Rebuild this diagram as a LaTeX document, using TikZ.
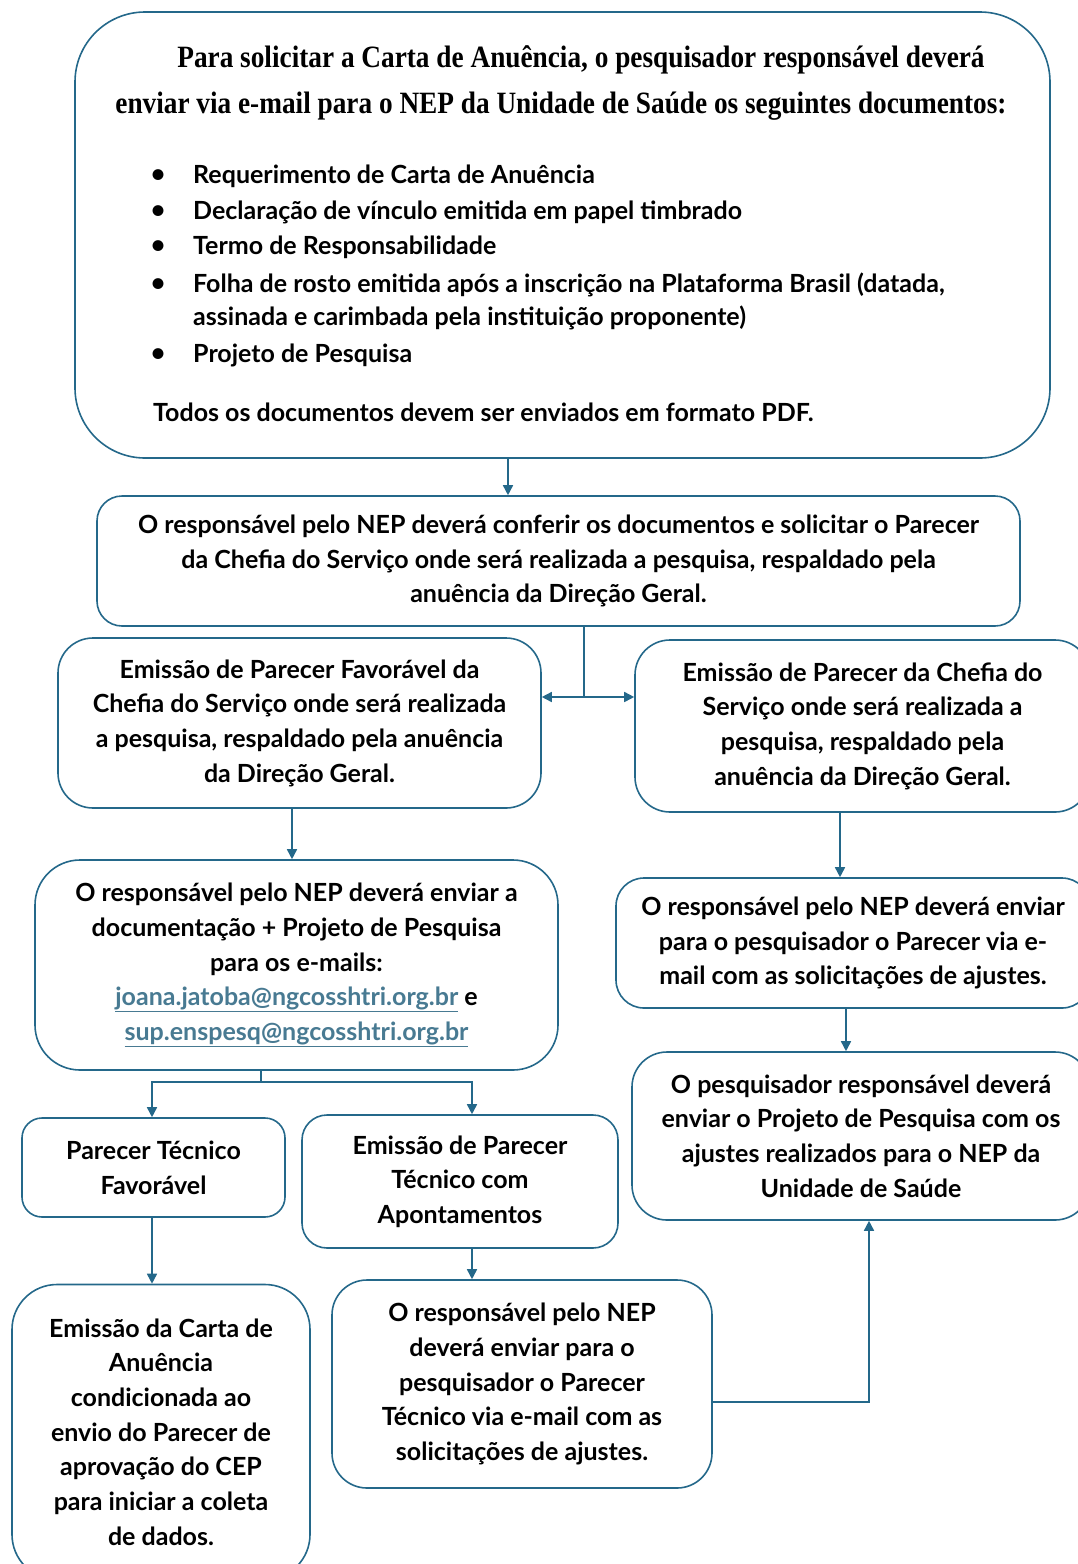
\documentclass[tikz,border=0pt]{standalone}
\usepackage{fontspec}
\setmainfont{Lato}
\newfontfamily\headfont[FakeStretch=0.88]{Liberation Serif}
\usetikzlibrary{positioning,arrows.meta,calc}
\definecolor{flowblue}{RGB}{36,104,138}
\definecolor{linkblue}{RGB}{72,122,146}
\newcommand{\maillink}[1]{\textcolor{linkblue}{\underline{#1}}}

\begin{document}
\begin{tikzpicture}[x=1pt,y=-1pt]
\tikzset{box/.style={draw=flowblue,line width=1.6pt,rounded corners=#1,align=center,inner sep=0pt,
    font=\fontsize{25}{34.7}\selectfont\bfseries},
  box/.default=28pt,
  txt/.style={inner sep=0pt,font=\fontsize{25}{34.7}\selectfont\bfseries},
  head/.style={inner sep=0pt,font=\headfont\fontsize{31}{36}\selectfont\bfseries},
  flow/.style={draw=flowblue,line width=1.6pt,-{Triangle[length=10pt,width=10pt]}},
  wire/.style={draw=flowblue,line width=1.6pt}}
\useasboundingbox (0,0) rectangle (1078,1564);
\clip (0,0) rectangle (1078,1564);

% request box
\node[box=70pt,minimum width=975pt,minimum height=446pt] (req) at (562.5,235) {};
\node[head] (head1) at (581,60) {Para solicitar a Carta de Anuência, o pesquisador responsável deverá};
\node[head] (head2) at (561,106) {enviar via e-mail para o NEP da Unidade de Saúde os seguintes documentos:};
\foreach \i/\y/\t in {1/176/Requerimento de Carta de Anuência,
    2/212/Declaração de vínculo emitida em papel timbrado,
    3/247/Termo de Responsabilidade,
    4/285/{Folha de rosto emitida após a inscrição na Plataforma Brasil (datada,},
    5/355/Projeto de Pesquisa}{
  \node[txt] (dot\i) at (158,\y) {\textbullet};
  \node[txt,anchor=west] (doc\i) at (193,\y) {\t};
}
\node[txt,anchor=west] (doc4b) at (193,318) {assinada e carimbada pela instituição proponente)};
\node[txt,anchor=west] (pdf) at (153,412) {Todos os documentos devem ser enviados em formato PDF.};

% checking
\node[box=25pt,minimum width=923pt,minimum height=130pt] (chk) at (558.5,561)
  {O responsável pelo NEP deverá conferir os documentos e solicitar o Parecer\\
   da Chefia do Serviço onde será realizada a pesquisa, respaldado pela\\
   anuência da Direção Geral.};

\node[box=35pt,minimum width=483pt,minimum height=170pt] (favor) at (299.5,723)
  {Emissão de Parecer Favorável da\\ Chefia do Serviço onde será realizada\\
   a pesquisa, respaldado pela anuência\\ da Direção Geral.};
\node[box=35pt,minimum width=455pt,minimum height=172pt] (chefia) at (862.5,726)
  {Emissão de Parecer da Chefia do\\ Serviço onde será realizada a\\
   pesquisa, respaldado pela\\ anuência da Direção Geral.};

\node[box=45pt,minimum width=523pt,minimum height=210pt] (envio) at (296.5,965)
  {O responsável pelo NEP deverá enviar a\\ documentação + Projeto de Pesquisa\\
   para os e-mails:\\ \maillink{joana.jatoba@ngcosshtri.org.br} e\\
   \maillink{sup.enspesq@ngcosshtri.org.br}};
\node[box=28pt,minimum width=474pt,minimum height=130pt] (retorno) at (853,943)
  {O responsável pelo NEP deverá enviar\\ para o pesquisador o Parecer via e-\\
   mail com as solicitações de ajustes.};
\node[box=35pt,minimum width=458pt,minimum height=168pt] (ajustes) at (861,1136)
  {O pesquisador responsável deverá\\ enviar o Projeto de Pesquisa com os\\
   ajustes realizados para o NEP da\\ Unidade de Saúde};

\node[box=20pt,minimum width=263pt,minimum height=99pt] (tecfav) at (153.5,1167.5)
  {Parecer Técnico\\ Favorável};
\node[box=25pt,minimum width=316pt,minimum height=133pt] (tecapt) at (460,1181.5)
  {Emissão de Parecer\\ Técnico com\\ Apontamentos};

\node[box=45pt,minimum width=298pt,minimum height=295pt] (carta) at (161,1432)
  {Emissão da Carta de\\ Anuência\\ condicionada ao\\ envio do Parecer de\\
   aprovação do CEP\\ para iniciar a coleta\\ de dados.};
\node[box=35pt,minimum width=380pt,minimum height=208pt] (tecnico) at (522,1384)
  {O responsável pelo NEP\\ deverá enviar para o\\ pesquisador o Parecer\\
   Técnico via e-mail com as\\ solicitações de ajustes.};

% connectors
\draw[flow] (req.south -| 508,0) -- (chk.north -| 508,0);
\coordinate (split) at (584,697);
\draw[wire] (chk.south -| split) -- (split);
\draw[flow] (split) -- (split -| favor.east);
\draw[flow] (split) -- (split -| chefia.west);
\draw[flow] (favor.south -| 292,0) -- (envio.north -| 292,0);
\draw[flow] (chefia.south -| 840,0) -- (retorno.north -| 840,0);
\draw[flow] (retorno.south -| 846,0) -- (ajustes.north -| 846,0);
\coordinate (fork) at (261,1082);
\draw[wire] (envio.south -| fork) -- (fork);
\draw[flow] (fork) -| (tecfav.north -| 152,0);
\draw[flow] (fork) -| (tecapt.north -| 472,0);
\draw[flow] (tecfav.south -| 152,0) -- (carta.north -| 152,0);
\draw[flow] (tecapt.south -| 472,0) -- (tecnico.north -| 472,0);
\draw[flow] ([yshift=-18pt]tecnico.east) -| (ajustes.south -| 869,0);
\end{tikzpicture}
\end{document}
